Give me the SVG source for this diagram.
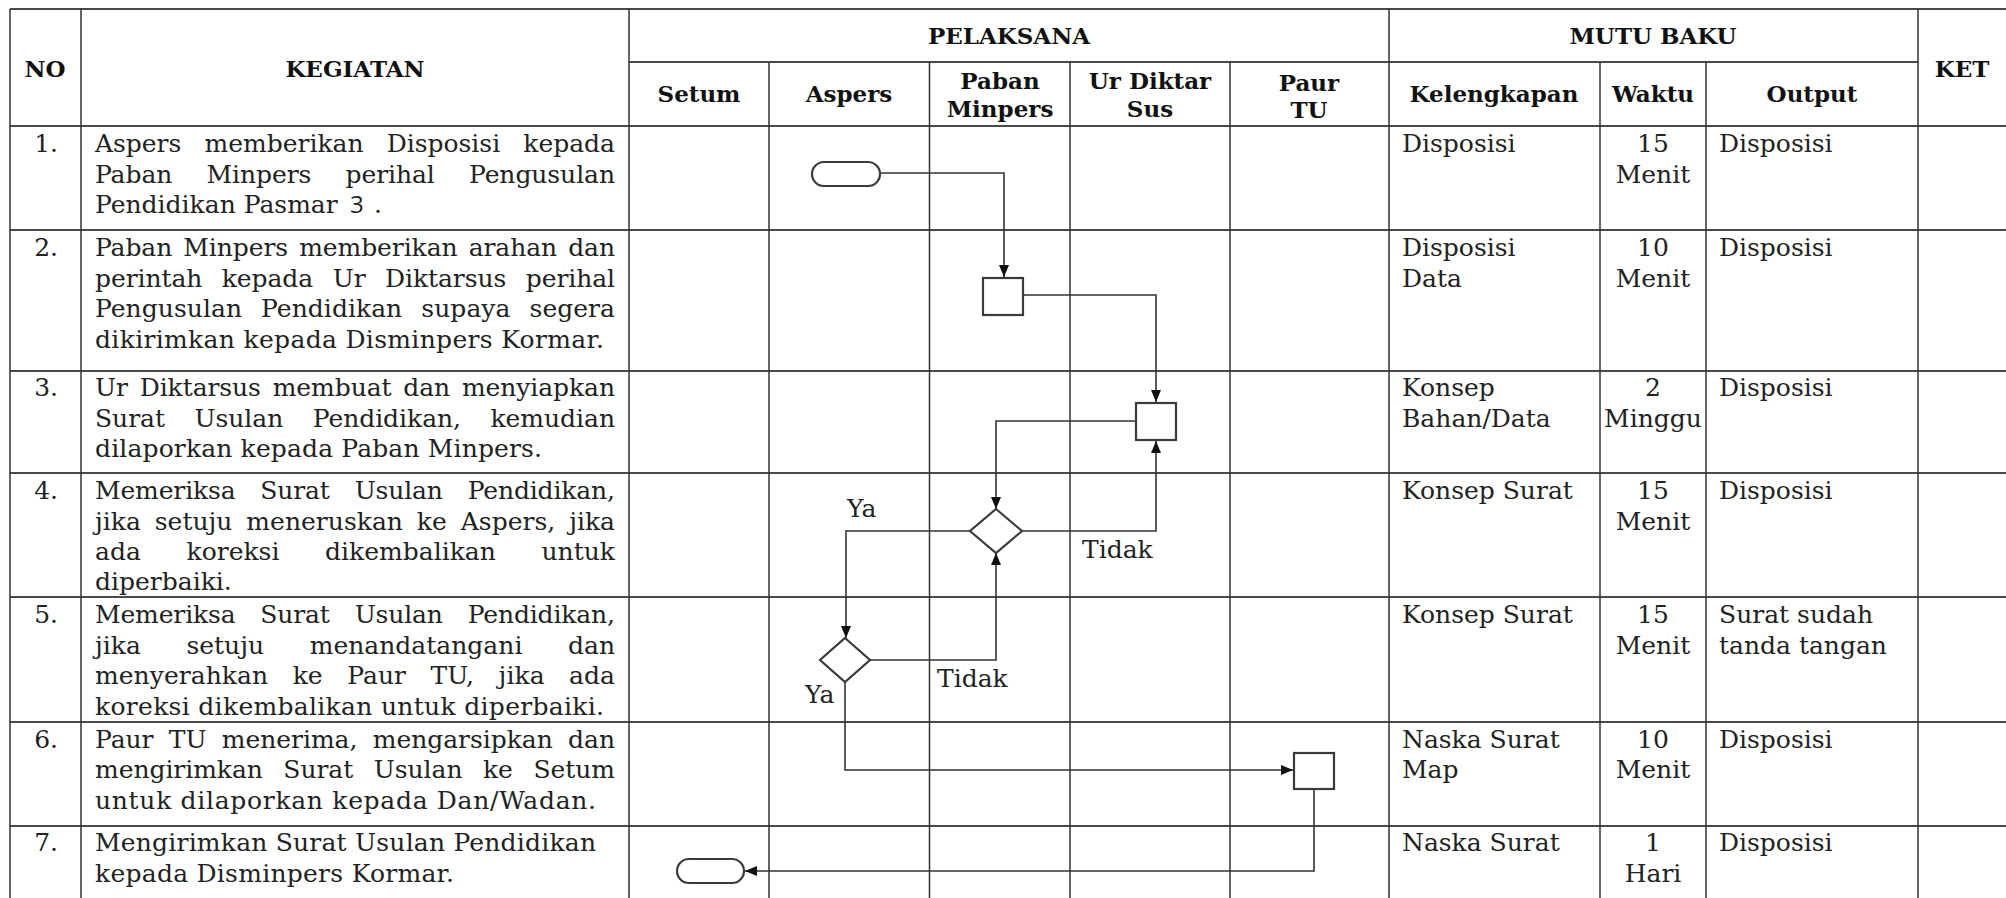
<svg xmlns="http://www.w3.org/2000/svg" width="2006" height="898" viewBox="0 0 2006 898">
<style>
.bg{fill:#fff}
.hl{stroke:#4a4a4a;stroke-width:2.2;fill:none}
.vl{stroke:#333;stroke-width:1.5;fill:none}
.t{font-family:"DejaVu Serif","Liberation Serif",serif;font-size:25px;fill:#222}
.h{font-family:"DejaVu Serif","Liberation Serif",serif;font-size:23px;font-weight:bold;fill:#111;text-anchor:middle}
.c{text-anchor:middle}
.e{text-anchor:end}
.shape{fill:#fff;stroke:#3a3a3a;stroke-width:2.2}
.conn{fill:none;stroke:#333;stroke-width:1.6}
.lbl{font-family:"DejaVu Serif","Liberation Serif",serif;font-size:25px;fill:#222}
</style>
<defs>
<marker id="arr" markerUnits="userSpaceOnUse" markerWidth="12" markerHeight="10" refX="12" refY="5" orient="auto">
<path d="M0,0 L12,5 L0,10 z" fill="#111"/>
</marker>
</defs>
<rect class="bg" x="0" y="0" width="2006" height="898"/>

<g id="table">
<line class="hl" x1="10" y1="9" x2="2006" y2="9"/>
<line class="hl" x1="629" y1="62" x2="1918" y2="62"/>
<line class="hl" x1="10" y1="126" x2="2006" y2="126"/>
<line class="hl" x1="10" y1="230" x2="2006" y2="230"/>
<line class="hl" x1="10" y1="371" x2="2006" y2="371"/>
<line class="hl" x1="10" y1="473" x2="2006" y2="473"/>
<line class="hl" x1="10" y1="597" x2="2006" y2="597"/>
<line class="hl" x1="10" y1="722" x2="2006" y2="722"/>
<line class="hl" x1="10" y1="826" x2="2006" y2="826"/>
<line class="vl" x1="10" y1="9" x2="10" y2="898"/>
<line class="vl" x1="81" y1="9" x2="81" y2="898"/>
<line class="vl" x1="629" y1="9" x2="629" y2="898"/>
<line class="vl" x1="769" y1="62" x2="769" y2="898"/>
<line class="vl" x1="929.5" y1="62" x2="929.5" y2="898"/>
<line class="vl" x1="1070" y1="62" x2="1070" y2="898"/>
<line class="vl" x1="1230" y1="62" x2="1230" y2="898"/>
<line class="vl" x1="1389" y1="9" x2="1389" y2="898"/>
<line class="vl" x1="1600" y1="62" x2="1600" y2="898"/>
<line class="vl" x1="1706" y1="62" x2="1706" y2="898"/>
<line class="vl" x1="1918" y1="9" x2="1918" y2="898"/>
</g>

<g id="header">
<text class="h" x="45" y="77">NO</text>
<text class="h" x="355" y="77">KEGIATAN</text>
<text class="h" x="1009" y="44">PELAKSANA</text>
<text class="h" x="1653" y="44">MUTU BAKU</text>
<text class="h" x="1962" y="77">KET</text>
<text class="h" x="699" y="102">Setum</text>
<text class="h" x="849" y="102">Aspers</text>
<text class="h" x="1000" y="89">Paban</text>
<text class="h" x="1000" y="117">Minpers</text>
<text class="h" x="1150" y="89">Ur Diktar</text>
<text class="h" x="1150" y="117">Sus</text>
<text class="h" x="1309" y="91">Paur</text>
<text class="h" x="1309" y="118">TU</text>
<text class="h" x="1494" y="102">Kelengkapan</text>
<text class="h" x="1653" y="102">Waktu</text>
<text class="h" x="1812" y="102">Output</text>
</g>

<g id="row1">
<text class="t e" x="58" y="152">1.</text>
<text class="t" x="95" y="152" textLength="520" lengthAdjust="spacing" word-spacing="15.3">Aspers memberikan Disposisi kepada</text>
<text class="t" x="95" y="183" textLength="520" lengthAdjust="spacing" word-spacing="26.4">Paban Minpers perihal Pengusulan</text>
<text class="t" x="95" y="213">Pendidikan Pasmar<tspan x="350" font-family="'Open Sans','Liberation Sans',sans-serif" font-size="24">3</tspan><tspan x="366"> .</tspan></text>
<text class="t" x="1402" y="152">Disposisi</text>
<text class="t c" x="1653" y="152">15</text>
<text class="t c" x="1653" y="183">Menit</text>
<text class="t" x="1719" y="152">Disposisi</text>
</g>

<g id="row2">
<text class="t e" x="58" y="256">2.</text>
<text class="t" x="95" y="256" textLength="520" lengthAdjust="spacing" word-spacing="3.3">Paban Minpers memberikan arahan dan</text>
<text class="t" x="95" y="287" textLength="520" lengthAdjust="spacing" word-spacing="11.7">perintah kepada Ur Diktarsus perihal</text>
<text class="t" x="95" y="317" textLength="520" lengthAdjust="spacing" word-spacing="11.1">Pengusulan Pendidikan supaya segera</text>
<text class="t" x="95" y="348" textLength="509" lengthAdjust="spacing">dikirimkan kepada Disminpers Kormar.</text>
<text class="t" x="1402" y="256">Disposisi</text>
<text class="t" x="1402" y="287">Data</text>
<text class="t c" x="1653" y="256">10</text>
<text class="t c" x="1653" y="287">Menit</text>
<text class="t" x="1719" y="256">Disposisi</text>
</g>

<g id="row3">
<text class="t e" x="58" y="396">3.</text>
<text class="t" x="95" y="396" textLength="520" lengthAdjust="spacing" word-spacing="4">Ur Diktarsus membuat dan menyiapkan</text>
<text class="t" x="95" y="427" textLength="520" lengthAdjust="spacing" word-spacing="21.6">Surat Usulan Pendidikan, kemudian</text>
<text class="t" x="95" y="457" textLength="447" lengthAdjust="spacing">dilaporkan kepada Paban Minpers.</text>
<text class="t" x="1402" y="396">Konsep</text>
<text class="t" x="1402" y="427">Bahan/Data</text>
<text class="t c" x="1653" y="396">2</text>
<text class="t c" x="1653" y="427">Minggu</text>
<text class="t" x="1719" y="396">Disposisi</text>
</g>

<g id="row4">
<text class="t e" x="58" y="499">4.</text>
<text class="t" x="95" y="499" textLength="520" lengthAdjust="spacing" word-spacing="17.1">Memeriksa Surat Usulan Pendidikan,</text>
<text class="t" x="95" y="530" textLength="520" lengthAdjust="spacing" word-spacing="5.9">jika setuju meneruskan ke Aspers, jika</text>
<text class="t" x="95" y="560" textLength="520" lengthAdjust="spacing" word-spacing="37.7">ada koreksi dikembalikan untuk</text>
<text class="t" x="95" y="590">diperbaiki.</text>
<text class="t" x="1402" y="499">Konsep Surat</text>
<text class="t c" x="1653" y="499">15</text>
<text class="t c" x="1653" y="530">Menit</text>
<text class="t" x="1719" y="499">Disposisi</text>
</g>

<g id="row5">
<text class="t e" x="58" y="623">5.</text>
<text class="t" x="95" y="623" textLength="520" lengthAdjust="spacing" word-spacing="17.1">Memeriksa Surat Usulan Pendidikan,</text>
<text class="t" x="95" y="654" textLength="520" lengthAdjust="spacing" word-spacing="37.6">jika setuju menandatangani dan</text>
<text class="t" x="95" y="684" textLength="520" lengthAdjust="spacing" word-spacing="16.5">menyerahkan ke Paur TU, jika ada</text>
<text class="t" x="95" y="715" textLength="509" lengthAdjust="spacing">koreksi dikembalikan untuk diperbaiki.</text>
<text class="t" x="1402" y="623">Konsep Surat</text>
<text class="t c" x="1653" y="623">15</text>
<text class="t c" x="1653" y="654">Menit</text>
<text class="t" x="1719" y="623">Surat sudah</text>
<text class="t" x="1719" y="654">tanda tangan</text>
</g>

<g id="row6">
<text class="t e" x="58" y="748">6.</text>
<text class="t" x="95" y="748" textLength="520" lengthAdjust="spacing" word-spacing="7.4">Paur TU menerima, mengarsipkan dan</text>
<text class="t" x="95" y="778" textLength="520" lengthAdjust="spacing" word-spacing="12.7">mengirimkan Surat Usulan ke Setum</text>
<text class="t" x="95" y="809" textLength="501" lengthAdjust="spacing">untuk dilaporkan kepada Dan/Wadan.</text>
<text class="t" x="1402" y="748">Naska Surat</text>
<text class="t" x="1402" y="778">Map</text>
<text class="t c" x="1653" y="748">10</text>
<text class="t c" x="1653" y="778">Menit</text>
<text class="t" x="1719" y="748">Disposisi</text>
</g>

<g id="row7">
<text class="t e" x="58" y="851">7.</text>
<text class="t" x="95" y="851" textLength="501" lengthAdjust="spacing">Mengirimkan Surat Usulan Pendidikan</text>
<text class="t" x="95" y="882" textLength="359" lengthAdjust="spacing">kepada Disminpers Kormar.</text>
<text class="t" x="1402" y="851">Naska Surat</text>
<text class="t c" x="1653" y="851">1</text>
<text class="t c" x="1653" y="882">Hari</text>
<text class="t" x="1719" y="851">Disposisi</text>
</g>

<g id="connectors">
<polyline class="conn" points="880,173 1004,173 1004,277" marker-end="url(#arr)"/>
<polyline class="conn" points="1023,295 1156,295 1156,402" marker-end="url(#arr)"/>
<polyline class="conn" points="1136,421 996,421 996,509" marker-end="url(#arr)"/>
<polyline class="conn" points="1022,531 1156,531 1156,441" marker-end="url(#arr)"/>
<polyline class="conn" points="970,531 846,531 846,638" marker-end="url(#arr)"/>
<polyline class="conn" points="870,660 996,660 996,553" marker-end="url(#arr)"/>
<polyline class="conn" points="845,682 845,770 1293,770" marker-end="url(#arr)"/>
<polyline class="conn" points="1314,789 1314,871 745,871" marker-end="url(#arr)"/>
<text class="lbl" x="847" y="517">Ya</text>
<text class="lbl" x="1082" y="558">Tidak</text>
<text class="lbl" x="937" y="687">Tidak</text>
<text class="lbl" x="805" y="703">Ya</text>
</g>

<g id="start"><rect class="shape" x="812" y="162" width="68" height="24" rx="12"/></g>
<g id="p1"><rect class="shape" x="983" y="278" width="40" height="37"/></g>
<g id="p2"><rect class="shape" x="1136" y="403" width="40" height="37"/></g>
<g id="d1"><polygon class="shape" points="996,509 1022,531 996,553 970,531"/></g>
<g id="d2"><polygon class="shape" points="845,638 870,660 845,682 820,660"/></g>
<g id="p3"><rect class="shape" x="1294" y="753" width="40" height="36"/></g>
<g id="end"><rect class="shape" x="677" y="859" width="67" height="24" rx="12"/></g>
</svg>
